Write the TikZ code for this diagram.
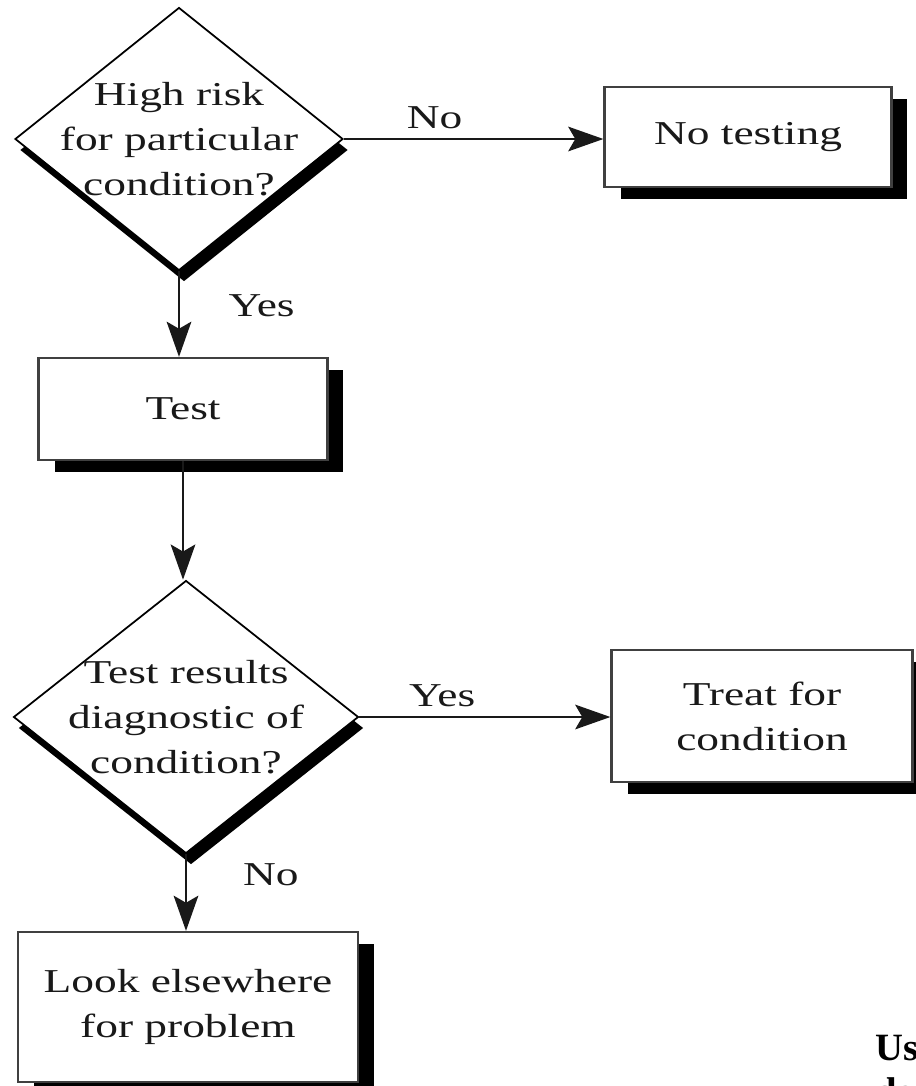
\documentclass[tikz,border=0pt]{standalone}
\usepackage{fontspec}
\setmainfont{Liberation Serif}[FakeStretch=1.36]
\newfontfamily\notefont{Liberation Serif}
\usetikzlibrary{shapes.geometric,arrows.meta,positioning,shadows}

\begin{document}
\begin{tikzpicture}[
    x=0.02cm, y=-0.02cm,
    decision/.style={diamond, draw, line width=1pt, fill=white, inner sep=-0.8cm, text=black!90, font=\fontsize{19}{25.5}\selectfont, align=center, drop shadow={shadow xshift=0.1cm, shadow yshift=-0.22cm, fill=black, opacity=1}},
    box/.style={rectangle, draw=black!75, line width=1.3pt, fill=white, text=black!90, font=\fontsize{19}{25.5}\selectfont, align=center, drop shadow={shadow xshift=0.32cm, shadow yshift=-0.24cm, fill=black, opacity=1}},
    arrow/.style={-{Stealth[length=20pt, width=14pt, inset=4pt]}, line width=1.4pt, draw=black!90, fill=black},
    lbl/.style={text=black!90, font=\fontsize{19}{25.5}\selectfont},
    note/.style={font=\notefont\bfseries\fontsize{22}{28}\selectfont, inner sep=0pt}
]
\useasboundingbox (0,0) rectangle (916,1086);
\clip (0,0) rectangle (916,1086);
\node[decision, minimum width=6.56cm, minimum height=5.26cm] (risk) at (179,139) {High risk\\for particular\\condition?};
\node[box, minimum width=5.74cm, minimum height=2.0cm] (notest) at (748,137) {No testing};
\node[box, minimum width=5.78cm, minimum height=2.04cm] (test) at (183,409) {Test};
\node[decision, minimum width=6.9cm, minimum height=5.46cm] (diag) at (186,717) {Test results\\diagnostic of\\condition?};
\node[box, minimum width=6.02cm, minimum height=2.64cm] (treat) at (762,716) {Treat for\\condition};
\node[box, minimum width=6.8cm, minimum height=3.0cm] (look) at (188,1007) {Look elsewhere\\for problem};
\node[note, anchor=base west] (us) at (875,1060) {Us};
\node[note, anchor=base west] (de) at (875,1104) {de};
\draw[arrow] (risk.east) -- node[lbl, pos=0.35, above=2pt] {No} (risk.east -| notest.west);
\draw[arrow] (risk.south) -- node[lbl, pos=0.4, right=0.85cm] {Yes} (risk.south |- test.north);
\draw[arrow] (test.south) -- (test.south |- diag.north);
\draw[arrow] (diag.east) -- node[lbl, pos=0.33, above=2pt] {Yes} (diag.east -| treat.west);
\draw[arrow] (diag.south) -- node[lbl, pos=0.27, right=1.0cm] {No} (diag.south |- look.north);
\end{tikzpicture}
\end{document}
